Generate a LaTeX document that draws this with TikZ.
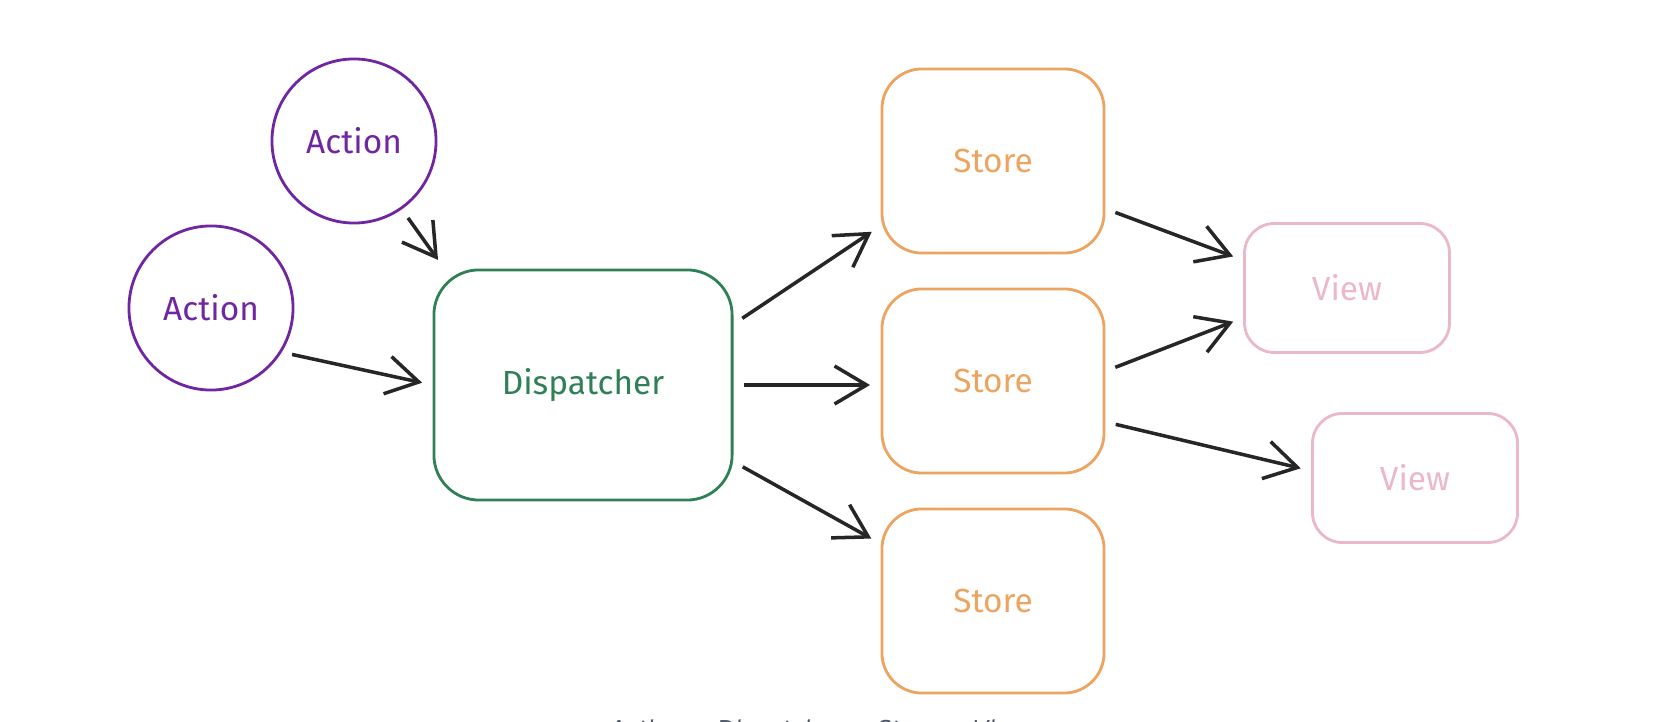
\documentclass[tikz,border=0pt]{standalone}
\usepackage{fontspec}
\setmainfont{Fira Sans}
\newfontfamily\capfont{DejaVu Sans}
\usetikzlibrary{arrows.meta}
\definecolor{actclr}{RGB}{112,38,160}
\definecolor{dspclr}{RGB}{47,128,86}
\definecolor{stoclr}{RGB}{236,164,96}
\definecolor{vwclr}{RGB}{236,184,200}
\definecolor{capclr}{RGB}{75,85,99}

\begin{document}
\begin{tikzpicture}[x=0.01cm,y=-0.01cm,>={Straight Barb[length=3.2mm,width=3.8mm]},every node/.style={font=\fontsize{9.5}{11}\selectfont},
  action/.style={circle,draw=actclr,line width=0.8pt,text=actclr,minimum size=1.64cm},
  disp/.style={rectangle,draw=dspclr,line width=0.8pt,text=dspclr,rounded corners=4.5mm,minimum width=2.98cm,minimum height=2.30cm},
  store/.style={rectangle,draw=stoclr,line width=0.8pt,text=stoclr,rounded corners=4mm,minimum width=2.22cm,minimum height=1.84cm},
  view/.style={rectangle,draw=vwclr,line width=0.8pt,text=vwclr,rounded corners=3mm,minimum width=2.05cm,minimum height=1.29cm},
  flow/.style={->,black!85,line width=1pt,shorten <=3pt,shorten >=3pt}]
\clip (0,0) rectangle (1664,722);
\node[action] (act1) at (354,141) {Action};
\node[action] (act2) at (211,308) {Action};
\node[disp] (dsp) at (583,385) {Dispatcher};
\node[store] (st1) at (993,161) {Store};
\node[store] (st2) at (993,381) {Store};
\node[store] (st3) at (993,601) {Store};
\node[view] (vw1) at (1347,288) {View};
\node[view] (vw2) at (1415,478) {View};
\draw[flow] (act1.-55) -- (dsp.140);
\draw[flow] (act2.-32) -- (dsp.west);
\draw[flow] (dsp.22) -- (st1.210);
\draw[flow] (dsp.east) -- (st2.west |- dsp.east);
\draw[flow] (dsp.-27) -- (st3.153);
\draw[flow] (st1.-23) -- (vw1.165);
\draw[flow] (st2.5) -- (vw1.196);
\draw[flow] (st2.-20) -- (vw2.176);
\node[anchor=base west,font=\capfont\itshape\fontsize{6.6}{8}\selectfont,text=capclr] (cap) at (597,737) {Action → Dispatcher → Store → View};
\end{tikzpicture}
\end{document}
